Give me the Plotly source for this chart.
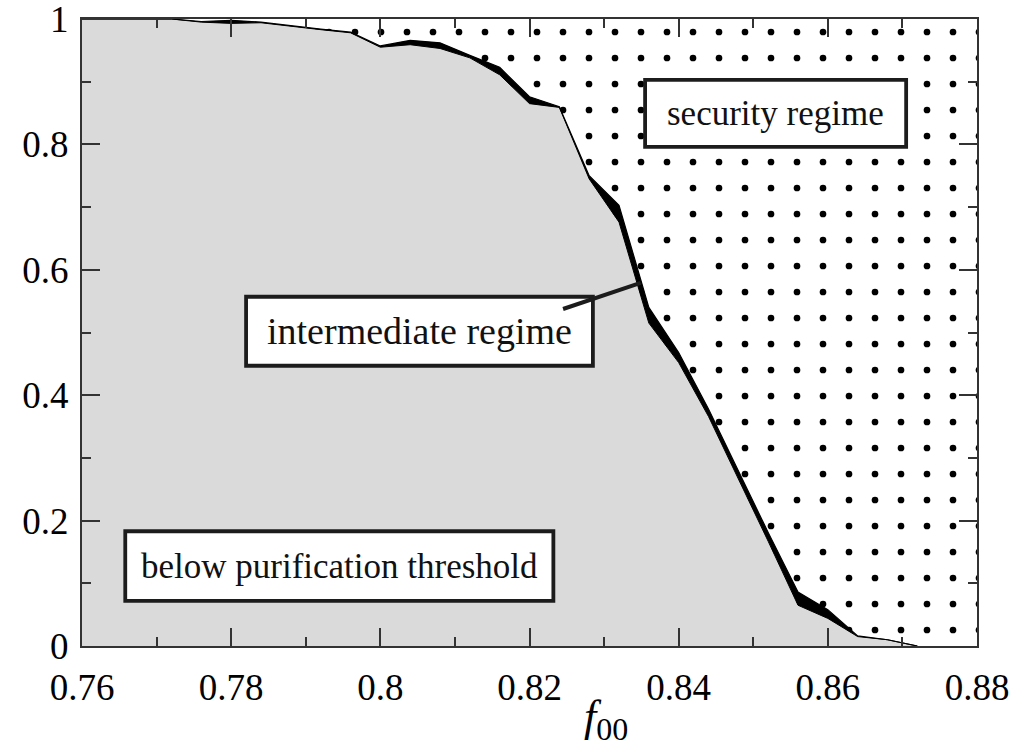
import plotly.graph_objects as go

# Fidelity f00 on the horizontal axis
f00 = [0.760, 0.764, 0.768, 0.772, 0.776, 0.780, 0.784, 0.788, 0.792, 0.796,
       0.800, 0.804, 0.808, 0.812, 0.816, 0.820, 0.824, 0.828, 0.832, 0.836,
       0.840, 0.844, 0.848, 0.852, 0.856, 0.860, 0.864, 0.868, 0.872]

# Upper boundary: onset of the security regime
upper = [1.000, 1.000, 1.000, 1.000, 0.996, 0.998, 0.995, 0.989, 0.984, 0.979,
         0.957, 0.966, 0.962, 0.942, 0.923, 0.876, 0.860, 0.750, 0.703, 0.540,
         0.468, 0.378, 0.280, 0.181, 0.086, 0.058, 0.016, 0.010, 0.000]

# Lower boundary: purification threshold
lower = [1.000, 1.000, 1.000, 1.000, 0.995, 0.993, 0.994, 0.988, 0.983, 0.978,
         0.955, 0.959, 0.953, 0.938, 0.911, 0.865, 0.859, 0.745, 0.676, 0.515,
         0.452, 0.366, 0.267, 0.167, 0.065, 0.044, 0.015, 0.010, 0.000]

x_range = [0.76, 0.88]
y_range = [0.0, 1.0]
x_ticks = [0.76, 0.78, 0.80, 0.82, 0.84, 0.86, 0.88]
x_tick_text = ["0.76", "0.78", "0.8", "0.82", "0.84", "0.86", "0.88"]
y_ticks = [0.0, 0.2, 0.4, 0.6, 0.8, 1.0]
y_tick_text = ["0", "0.2", "0.4", "0.6", "0.8", "1"]

# Region labels: (text, font size, x0, x1, y0, y1) of each framed box
regions = [
    ("security regime", 35, 0.8355, 0.8705, 0.796, 0.903),
    ("intermediate regime", 38, 0.7820, 0.8285, 0.447, 0.557),
    ("below purification threshold", 35, 0.7658, 0.8232, 0.072, 0.183),
]
# Leader line from the intermediate-regime box to the band
leader = (0.8245, 0.5375, 0.8349, 0.579)

SERIF = "Liberation Serif"
INK = "#1c1c1c"

fig = go.Figure()

# Dotted background: security regime
fig.add_trace(go.Scatter(
    x=[x_range[0], x_range[1], x_range[1], x_range[0]],
    y=[y_range[0], y_range[0], y_range[1], y_range[1]],
    fill="toself", mode="none", fillcolor="white",
    fillpattern=dict(shape=".", size=26, solidity=0.052, fgopacity=1,
                     fgcolor="black", bgcolor="white"),
    hoverinfo="skip", showlegend=False))

# Grey area below the purification threshold
fig.add_trace(go.Scatter(
    x=f00, y=lower, fill="tozeroy", mode="lines",
    fillcolor="#dadada", line=dict(color="black", width=1),
    hoverinfo="skip", showlegend=False))

# Black band: intermediate regime between the two boundaries
fig.add_trace(go.Scatter(
    x=f00, y=upper, fill="tonexty", mode="lines",
    fillcolor="black", line=dict(color="black", width=1.2),
    hoverinfo="skip", showlegend=False))

shapes = []
annotations = []
for text, size, x0, x1, y0, y1 in regions:
    shapes.append(dict(type="rect", xref="x", yref="y", x0=x0, x1=x1, y0=y0, y1=y1,
                       fillcolor="white", line=dict(color=INK, width=3.8), layer="above"))
    annotations.append(dict(xref="x", yref="y", x=(x0 + x1) / 2, y=(y0 + y1) / 2,
                            text=text, showarrow=False,
                            font=dict(family=SERIF, size=size, color="#111111")))
shapes.append(dict(type="line", xref="x", yref="y",
                   x0=leader[0], y0=leader[1], x1=leader[2], y1=leader[3],
                   line=dict(color=INK, width=4), layer="above"))

# Axis title f00
annotations.append(dict(xref="x", yref="paper", x=0.8303, y=-0.118, yanchor="middle",
                        text="<i>f</i><sub><span style='font-size:32px'>00</span></sub>",
                        showarrow=False,
                        font=dict(family=SERIF, size=44, color="black")))

axis_common = dict(
    showline=True, linewidth=2, linecolor="#333333", mirror="ticks",
    ticks="inside", ticklen=18, tickwidth=1.5, tickcolor="#333333",
    showgrid=False, zeroline=False, automargin=False, ticklabeloverflow="allow",
    tickfont=dict(family=SERIF, size=37, color="black"),
)

fig.update_layout(
    width=1012, height=746,
    margin=dict(l=82, r=35, t=19, b=100),
    paper_bgcolor="white", plot_bgcolor="white",
    xaxis=dict(range=x_range, tickmode="array", tickvals=x_ticks, ticktext=x_tick_text,
               ticklabelstandoff=8,
               minor=dict(ticks="inside", ticklen=9, dtick=0.01, tick0=0.76,
                          tickwidth=1.5, tickcolor="#333333"),
               **axis_common),
    yaxis=dict(range=y_range, tickmode="array", tickvals=y_ticks, ticktext=y_tick_text,
               ticklabelstandoff=4,
               minor=dict(ticks="inside", ticklen=9, dtick=0.1, tick0=0.0,
                          tickwidth=1.5, tickcolor="#333333"),
               **axis_common),
    shapes=shapes,
    annotations=annotations,
)

fig.write_html("out.html")
